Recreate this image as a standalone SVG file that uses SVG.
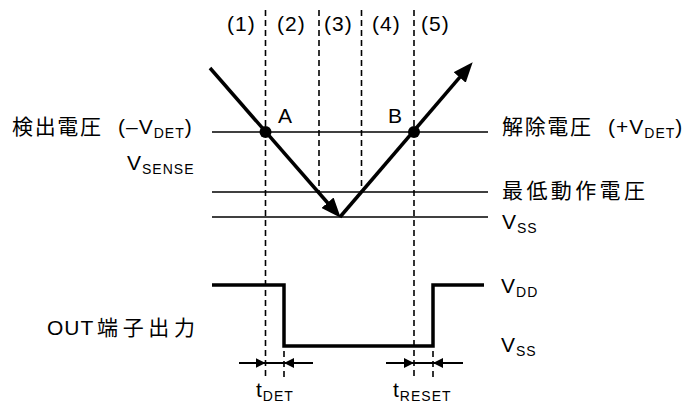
<svg xmlns="http://www.w3.org/2000/svg" width="689" height="403" viewBox="0 0 689 403">
<style>
text{font-family:"Liberation Sans",Arial,"Noto Sans CJK JP",sans-serif;font-size:21px;fill:#000;letter-spacing:1px}
.jp{font-family:"Noto Sans CJK JP","Liberation Sans",sans-serif;font-size:21px;letter-spacing:0}
.sub{font-size:14px}
.thin{stroke:#000;stroke-width:1.6;fill:none}
.dash{stroke:#000;stroke-width:1.6;stroke-dasharray:6 4;fill:none}
.thick{stroke:#000;stroke-width:3.5;fill:none}
.tarr{stroke:#000;stroke-width:2;fill:none}
</style>
<defs>
<marker id="big" viewBox="0 0 20 16" refX="1" refY="8" markerWidth="20" markerHeight="16" markerUnits="userSpaceOnUse" orient="auto"><path d="M0,0 L20,8 L0,16 z" fill="#000"/></marker>
<marker id="small" viewBox="0 0 10 10" refX="10" refY="5" markerWidth="10" markerHeight="10" markerUnits="userSpaceOnUse" orient="auto"><path d="M0,0 L10,5 L0,10 z" fill="#000"/></marker>
</defs>

<g id="levels">
<line class="thin" x1="212" y1="132" x2="488" y2="132"/>
<line class="thin" x1="212" y1="192" x2="488" y2="192"/>
<line class="thin" x1="212" y1="217" x2="488" y2="217"/>
</g>

<g id="dashed">
<line class="dash" x1="265.5" y1="10" x2="265.5" y2="377"/>
<line class="dash" x1="319" y1="10" x2="319" y2="192"/>
<line class="dash" x1="361.5" y1="10" x2="361.5" y2="192"/>
<line class="dash" x1="414" y1="10" x2="414" y2="377"/>
<line class="dash" x1="284" y1="351" x2="284" y2="377"/>
<line class="dash" x1="433" y1="351" x2="433" y2="377"/>
</g>

<g id="connectors">
<line class="thick" x1="210" y1="68" x2="328.2" y2="203.5" marker-end="url(#big)"/>
<line class="thick" x1="340" y1="217" x2="460.3" y2="76.7" marker-end="url(#big)"/>
<polyline class="thick" points="212,285 284,285 284,346 433,346 433,285 484,285"/>
<line class="tarr" x1="239" y1="363" x2="265.5" y2="363" marker-end="url(#small)"/>
<line class="tarr" x1="265.5" y1="363" x2="284" y2="363"/>
<line class="tarr" x1="313" y1="363" x2="284" y2="363" marker-end="url(#small)"/>
<line class="tarr" x1="386" y1="363" x2="414" y2="363" marker-end="url(#small)"/>
<line class="tarr" x1="414" y1="363" x2="433" y2="363"/>
<line class="tarr" x1="463" y1="363" x2="433" y2="363" marker-end="url(#small)"/>
</g>

<g id="pointA"><circle cx="265.5" cy="132" r="6"/><text x="278" y="123">A</text></g>
<g id="pointB"><circle cx="414" cy="132" r="6"/><text x="388" y="123">B</text></g>

<g id="phases">
<text x="227" y="31">(1)</text>
<text x="277" y="31">(2)</text>
<text x="324" y="31">(3)</text>
<text x="372" y="31">(4)</text>
<text x="421" y="31">(5)</text>
</g>

<g id="label-detect">
<text class="jp" x="12" y="134" textLength="89" lengthAdjust="spacing">検出電圧</text>
<text x="118" y="134">(–V<tspan class="sub" dy="4">DET</tspan><tspan dy="-4">)</tspan></text>
<text x="127" y="170">V<tspan class="sub" dy="4">SENSE</tspan></text>
</g>

<g id="label-release">
<text class="jp" x="502" y="134" textLength="89" lengthAdjust="spacing">解除電圧</text>
<text x="608" y="134">(+V<tspan class="sub" dy="4">DET</tspan><tspan dy="-4">)</tspan></text>
</g>

<g id="label-min">
<text class="jp" x="502" y="198" textLength="143" lengthAdjust="spacing">最低動作電圧</text>
</g>
<g id="label-vss1"><text x="502" y="229">V<tspan class="sub" dy="4">SS</tspan></text></g>
<g id="label-vdd"><text x="501" y="293">V<tspan class="sub" dy="4">DD</tspan></text></g>
<g id="label-vss2"><text x="501" y="352">V<tspan class="sub" dy="4">SS</tspan></text></g>

<g id="label-out">
<text x="47" y="335">OUT</text>
<text class="jp" x="97" y="335" textLength="98" lengthAdjust="spacing">端子出力</text>
</g>

<g id="label-tdet"><text x="256" y="397">t<tspan class="sub" dy="4">DET</tspan></text></g>
<g id="label-treset"><text x="393" y="397">t<tspan class="sub" dy="4">RESET</tspan></text></g>
</svg>
